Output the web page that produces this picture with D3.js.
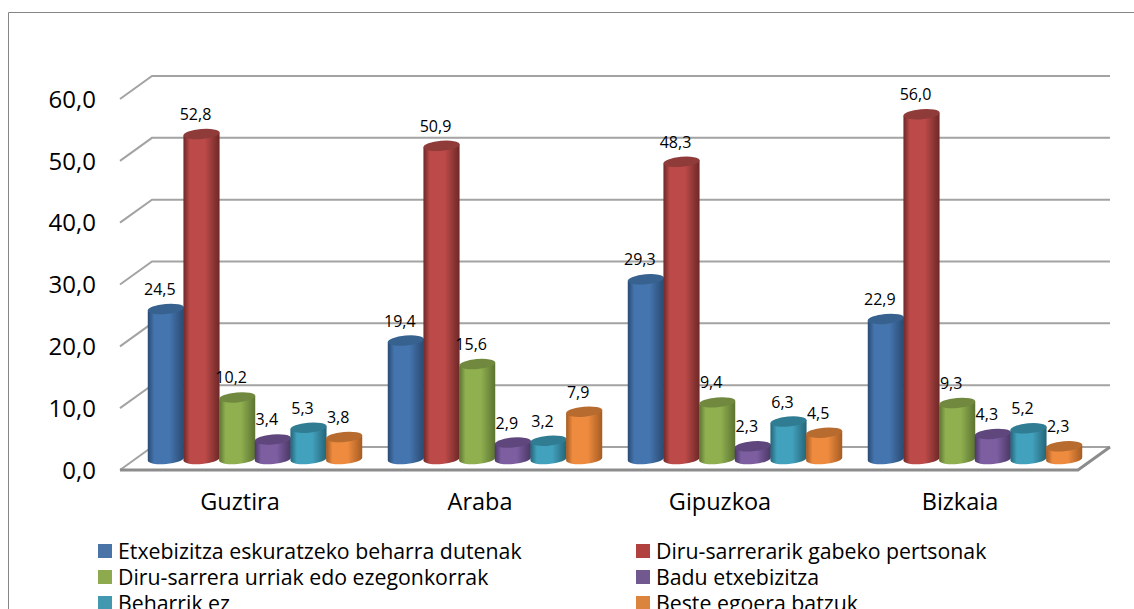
<!DOCTYPE html>
<html lang="en">
	<head>
		<meta charset="utf-8">
		<title>Etxebizitza</title>
		<script type="text/javascript" src="https://d3js.org/d3.v7.min.js"></script>
		<style type="text/css">
			html, body { margin:0; padding:0; background:#fff; overflow:hidden; }
			text { font-family:"Open Sans", Lato, sans-serif; fill:#000; }
		</style>
	</head>
	<body>
		<script type="text/javascript">

			var w = 1134;
			var h = 609;

			var categories = ["Guztira", "Araba", "Gipuzkoa", "Bizkaia"];
			var seriesNames = [
				"Etxebizitza eskuratzeko beharra dutenak",
				"Diru-sarrerarik gabeko pertsonak",
				"Diru-sarrera urriak edo ezegonkorrak",
				"Badu etxebizitza",
				"Beharrik ez",
				"Beste egoera batzuk"
			];
			var etxebizitza = [24.5, 19.4, 29.3, 22.9];
			var diruGabe = [52.8, 50.9, 48.3, 56.0];
			var diruUrri = [10.2, 15.6, 9.4, 9.3];
			var baduEtxe = [3.4, 2.9, 2.3, 4.3];
			var beharrikEz = [5.3, 3.2, 6.3, 5.2];
			var besteak = [3.8, 7.9, 4.5, 2.3];
			var seriesValues = [etxebizitza, diruGabe, diruUrri, baduEtxe, beharrikEz, besteak];
			var tickValues = [0, 10, 20, 30, 40, 50, 60];

			// main, edge (dark side) and top cap colour of each series
			var mainColors = ["#4575ae", "#bb4a48", "#90b050", "#7d5fa1", "#42a2bd", "#ee8b3f"];
			var edgeColors = ["#294a73", "#6d2827", "#5c7331", "#4b3766", "#256478", "#a55c22"];
			var capColors = ["#37628f", "#8e3b39", "#71893f", "#5f467c", "#307c92", "#b76b2e"];
			var swatchColors = ["#4a74a8", "#b0413e", "#8daa4e", "#71588f", "#4198af", "#db843d"];

			var depthX = 32;
			var depthY = 23;
			var barDepthX = 15;
			var barDepthY = 9.5;
			var tilt = 5;
			var capRy = 5;

			var svg = d3.select("body")
						.append("svg")
						.attr("width", w)
						.attr("height", h)
						.style("display", "block");

			var x0 = d3.scaleBand().domain(categories).range([120, 1080]);
			var x1 = d3.scaleBand().domain(d3.range(seriesNames.length)).range([0, 214]);
			var y = d3.scaleLinear().domain([0, 60]).range([470, 99]);

			// chart frame, runs off the page at the right and the bottom
			svg.append("path")
				.attr("d", "M8.5,640V12.5H1140")
				.attr("fill", "none")
				.attr("stroke", "#868686")
				.attr("stroke-width", 1);

			// gridlines on the back wall and the slanted side wall
			var grid = svg.append("g");
			grid.selectAll("path")
				.data(tickValues)
				.enter()
				.append("path")
				.attr("d", function(d){
					return d3.line()([[x0.range()[0], y(d)],
						[x0.range()[0] + depthX, y(d) - depthY],
						[x0.range()[1] + depthX - 2, y(d) - depthY]]);
				})
				.attr("fill", "none")
				.attr("stroke", "#a3a3a3")
				.attr("stroke-width", 2);

			// floor
			svg.append("path")
				.attr("d", d3.line()([[x0.range()[0], y(0)],
					[x0.range()[1] - 2, y(0)],
					[x0.range()[1] + depthX - 2, y(0) - depthY]]))
				.attr("fill", "none")
				.attr("stroke", "#8c8c8c")
				.attr("stroke-width", 3);

			var yAxis = d3.axisLeft(y)
				.tickValues(tickValues)
				.tickSize(0)
				.tickPadding(24)
				.tickFormat(function(d){ return d3.format(".1f")(d).replace(".", ","); });
			var yg = svg.append("g")
				.attr("transform", "translate(120,1)")
				.call(yAxis);
			yg.select(".domain").remove();
			yg.selectAll("text").style("font-size", "24px").style("font-family", "Open Sans").attr("dy", "0.3em");

			var xAxis = d3.axisBottom(x0).tickSize(0).tickPadding(23);
			var xg = svg.append("g")
				.attr("transform", "translate(0,470)")
				.call(xAxis);
			xg.select(".domain").remove();
			xg.selectAll("text").style("font-size", "23.5px").style("font-family", "Open Sans");

			var defs = svg.append("defs");
			seriesNames.forEach(function(name, i){
				var grad = defs.append("linearGradient")
					.attr("id", "cyl" + i)
					.attr("x1", "0%").attr("x2", "100%")
					.attr("y1", "0%").attr("y2", "0%");
				grad.append("stop").attr("offset", "0%").attr("stop-color", edgeColors[i]);
				grad.append("stop").attr("offset", "18%").attr("stop-color", mainColors[i]);
				grad.append("stop").attr("offset", "60%").attr("stop-color", mainColors[i]);
				grad.append("stop").attr("offset", "100%").attr("stop-color", edgeColors[i]);
			});

			var rows = [];
			categories.forEach(function(cat, c){
				seriesNames.forEach(function(name, s){
					rows.push({cat:cat, s:s, value:seriesValues[s][c]});
				});
			});

			var rad = tilt * Math.PI / 180;

			function body(d){
				var r = x1.bandwidth() / 2 + 0.3;
				var cx = x0(d.cat) + 13 + barDepthX + x1(d.s) + x1.bandwidth() / 2;
				var top = y(d.value) - barDepthY;
				var bot = y(0) - barDepthY - 1.5;
				var dx = r * Math.cos(rad);
				var dy = r * Math.sin(rad);
				return "M" + (cx - dx) + "," + (top + dy)
					+ "L" + (cx - dx) + "," + (bot + dy)
					+ "A" + r + "," + capRy + " " + (-tilt) + " 0 0 " + (cx + dx) + "," + (bot - dy)
					+ "L" + (cx + dx) + "," + (top - dy)
					+ "Z";
			}

			var bars = svg.append("g").selectAll("g")
				.data(rows)
				.enter()
				.append("g");

			bars.append("path")
				.attr("d", body)
				.attr("fill", function(d){ return "url(#cyl" + d.s + ")"; });

			bars.append("ellipse")
				.attr("rx", x1.bandwidth() / 2 + 0.3)
				.attr("ry", capRy)
				.attr("transform", function(d){
					var cx = x0(d.cat) + 13 + barDepthX + x1(d.s) + x1.bandwidth() / 2;
					return "translate(" + cx + "," + (y(d.value) - barDepthY) + ") rotate(" + (-tilt) + ")";
				})
				.attr("fill", function(d){ return capColors[d.s]; });

			// labels go on top of every bar
			svg.append("g").selectAll("text")
				.data(rows)
				.enter()
				.append("text")
				.attr("x", function(d){ return x0(d.cat) + 13 + barDepthX + x1(d.s) + x1.bandwidth() / 2 - 6; })
				.attr("y", function(d){ return y(d.value) - barDepthY - 14; })
				.attr("text-anchor", "middle")
				.style("font-size", "16px")
				.text(function(d){ return d3.format(".1f")(d.value).replace(".", ","); });

			// legend, two columns
			var legendX = d3.scalePoint().domain([0, 1]).range([98, 636]);
			var legendY = d3.scalePoint().domain([0, 1, 2]).range([552, 604]);
			var legend = svg.append("g").selectAll("g")
				.data(seriesNames)
				.enter()
				.append("g")
				.attr("transform", function(d, i){
					return "translate(" + legendX(i % 2) + "," + legendY(Math.floor(i / 2)) + ")";
				});
			legend.append("rect")
				.attr("x", 0).attr("y", -8)
				.attr("width", 14).attr("height", 14)
				.attr("fill", function(d, i){ return swatchColors[i]; });
			legend.append("text")
				.attr("x", 20).attr("y", 7)
				.style("font-size", "21.3px")
				.text(function(d){ return d; });

		</script>
	</body>
</html>
